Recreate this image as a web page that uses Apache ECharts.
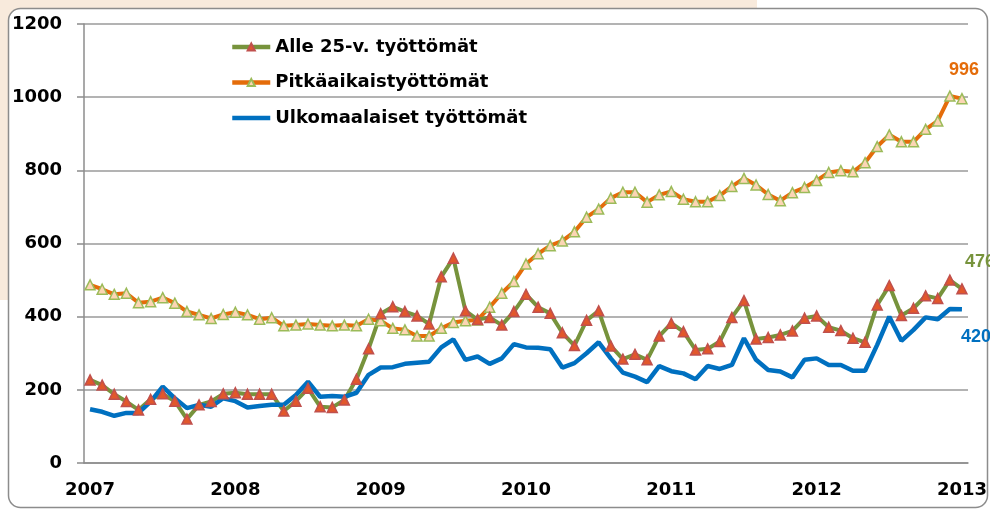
<!DOCTYPE html>
<html>
<head>
<meta charset="utf-8">
<script src="https://cdn.jsdelivr.net/npm/echarts@6/dist/echarts.min.js"></script>
<style>
  html, body { margin: 0; padding: 0; background: #fff; }
  #chart { width: 990px; height: 515px; }
</style>
</head>
<body>
<div id="chart"></div>
<script>
// vuodet, kuukausittain tammikuusta 2007 tammikuuhun 2013
const years = ["2007", "2008", "2009", "2010", "2011", "2012", "2013"];
const months = [];
years.forEach((y, i) => {
  const n = i === years.length - 1 ? 1 : 12;
  for (let m = 1; m <= n; m++) months.push(y + "-" + (m < 10 ? "0" + m : m));
});

const alle25 = [
  227, 213, 188, 168, 145, 174, 189, 169, 120, 159, 168, 189,
  192, 188, 188, 188, 142, 169, 204, 154, 152, 172, 229, 312,
  408, 427, 414, 402, 380, 509, 560, 416, 392, 398, 377, 414,
  461, 426, 409, 356, 321, 390, 416, 320, 284, 297, 282, 347,
  382, 359, 309, 312, 332, 398, 444, 339, 343, 350, 361, 396,
  402, 371, 362, 341, 330, 432, 485, 403, 423, 457, 450, 500,
  476,
];
const pitka = [
  487, 475, 461, 464, 438, 441, 452, 437, 414, 405, 395, 406,
  412, 405, 393, 397, 375, 377, 380, 377, 375, 377, 375, 393,
  389, 368, 364, 347, 347, 368, 384, 389, 391, 426, 464, 496,
  544, 572, 594, 607, 632, 672, 694, 724, 740, 740, 713, 733,
  742, 721, 714, 714, 731, 756, 778, 760, 734, 717, 739, 753,
  772, 794, 799, 796, 821, 865, 897, 878, 878, 912, 935, 1003,
  996,
];
const ulko = [
  147, 140, 129, 137, 137, 168, 209, 177, 150, 159, 154, 177,
  169, 152, 156, 159, 159, 186, 222, 181, 183, 181, 192, 241,
  261, 262, 271, 274, 277, 316, 338, 282, 291, 271, 286, 325,
  316, 315, 311, 261, 273, 300, 330, 286, 247, 236, 221, 265,
  251, 245, 229, 265, 257, 268, 341, 282, 254, 250, 234, 282,
  286, 268, 268, 252, 252, 323, 400, 334, 364, 398, 393, 421,
  420,
];

const names = ["Alle 25-v. työttömät", "Pitkäaikaistyöttömät", "Ulkomaalaiset työttömät"];

const font = "DejaVu Sans";
const chart = echarts.init(document.getElementById("chart"));

const endLabel = (color, offset) => ({
  show: true,
  color: color,
  fontFamily: "Liberation Sans",
  fontWeight: "bold",
  fontSize: 18,
  offset: offset,
  formatter: (p) => p.value,
});

chart.setOption({
  animation: false,
  backgroundColor: "#fff",
  graphic: [
    // taustan persikanvärinen alue
    { type: "rect", z: -10, silent: true, shape: { x: 0, y: 0, width: 757, height: 12 }, style: { fill: "#f8eadc" } },
    { type: "rect", z: -10, silent: true, shape: { x: 0, y: 0, width: 12, height: 300 }, style: { fill: "#f8eadc" } },
    {
      type: "rect", z: -9, silent: true,
      shape: { x: 8.5, y: 8.5, width: 979, height: 499, r: 12 },
      style: { fill: "#fff", stroke: "#8c8c8c", lineWidth: 1.5 },
    },
  ],
  grid: { left: 84, right: 22, top: 24, bottom: 52 },
  legend: {
    orient: "vertical",
    left: 230,
    top: 37,
    padding: 0,
    itemWidth: 38,
    itemHeight: 9,
    itemGap: 15.5,
    data: [
      { name: names[0], lineStyle: { width: 4.5 } },
      { name: names[1], lineStyle: { width: 4.5 } },
      { name: names[2], lineStyle: { width: 4.5 }, itemStyle: { opacity: 0 } },
    ],
    textStyle: { fontFamily: font, fontWeight: "bold", fontSize: 18, color: "#000", lineHeight: 20 },
  },
  xAxis: {
    type: "category",
    data: months,
    boundaryGap: true,
    axisLine: { lineStyle: { color: "#8c8c8c", width: 1.5 } },
    axisTick: { interval: 0, length: 7, lineStyle: { color: "#8c8c8c", width: 1.5 } },
    axisLabel: {
      interval: (i) => i % 12 === 0,
      formatter: (v) => v.slice(0, 4),
      margin: 18,
      fontFamily: font,
      fontWeight: "bold",
      fontSize: 18,
      color: "#000",
    },
  },
  yAxis: {
    type: "value",
    min: 0,
    max: 1200,
    interval: 200,
    axisLine: { show: true, lineStyle: { color: "#8c8c8c", width: 1.5 } },
    axisTick: { show: true, length: 7, lineStyle: { color: "#8c8c8c", width: 1.5 } },
    splitLine: { lineStyle: { color: "#9a9a9a", width: 1.5 } },
    axisLabel: {
      margin: 22,
      formatter: (v) => String(v),
      fontFamily: font,
      fontWeight: "bold",
      fontSize: 18,
      color: "#000",
    },
  },
  series: [
    {
      name: names[1],
      type: "line",
      data: pitka,
      symbol: "triangle",
      symbolSize: 10,
      showAllSymbol: true,
      lineStyle: { color: "#e46c0a", width: 4 },
      itemStyle: { color: "#fcd5b4", borderColor: "#9bbb59", borderWidth: 1.5 },
      endLabel: endLabel("#e46c0a", [-21, -29]),
    },
    {
      name: names[0],
      type: "line",
      data: alle25,
      symbol: "triangle",
      symbolSize: 10,
      showAllSymbol: true,
      lineStyle: { color: "#77933c", width: 4 },
      itemStyle: { color: "#e2572b", borderColor: "#c0504d", borderWidth: 1.5 },
      endLabel: endLabel("#77933c", [-5, -27]),
    },
    {
      name: names[2],
      type: "line",
      data: ulko,
      showSymbol: false,
      symbol: "none",
      lineStyle: { color: "#0070c0", width: 4.5 },
      itemStyle: { color: "#0070c0" },
      endLabel: endLabel("#0070c0", [-9, 28]),
    },
  ],
});
</script>
</body>
</html>
